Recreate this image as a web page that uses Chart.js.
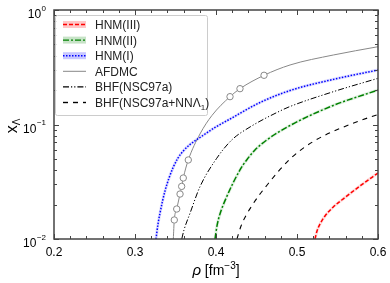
<!DOCTYPE html>
<html>
<head>
<meta charset="utf-8">
<script src="https://cdn.jsdelivr.net/npm/chart.js@4.4.1/dist/chart.umd.min.js"></script>
<style>
  html, body { margin: 0; padding: 0; background: #fff; }
  #wrap { width: 390px; height: 283px; }
</style>
</head>
<body>
<div id="wrap"><canvas id="chart" width="390" height="283"></canvas></div>
<script>
// values: rho [fm^-3] vs x_Lambda
const rhoHNM3 = [0.5222, 0.5247, 0.5284, 0.5346, 0.5448, 0.5593, 0.5778, 0.6];
const xHNM3   = [0.01, 0.01175, 0.01352, 0.01588, 0.01904, 0.02304, 0.02904, 0.0377];

const rhoHNM2 = [0.3988, 0.4012, 0.4049, 0.4132, 0.4296, 0.4379, 0.4481, 0.4626, 0.4914, 0.5448, 0.6];
const xHNM2   = [0.01, 0.01299, 0.01652, 0.0234, 0.0401, 0.049, 0.0599, 0.0732, 0.098, 0.1466, 0.2];

const rhoHNM1 = [0.3259, 0.3284, 0.3309, 0.334, 0.337, 0.342, 0.3473, 0.3531, 0.3596, 0.3679, 0.3802, 0.3988, 0.4173, 0.4543, 0.4914, 0.5469, 0.6];
const xHNM1   = [0.01, 0.01352, 0.01687, 0.02148, 0.02624, 0.0341, 0.0425, 0.051, 0.0587, 0.0669, 0.077, 0.0942, 0.1117, 0.1556, 0.198, 0.2496, 0.2992];

const rhoAFDMC = [0.3473, 0.3485, 0.3515, 0.3556, 0.3576, 0.3596, 0.3658, 0.3802, 0.395, 0.4173, 0.4296, 0.4593, 0.4914, 0.5448, 0.6];
const xAFDMC   = [0.01, 0.01466, 0.01828, 0.0247, 0.0288, 0.0341, 0.049, 0.0826, 0.1199, 0.175, 0.2055, 0.269, 0.331, 0.4045, 0.478];
const rhoAFDMCpts = [0.3485, 0.3515, 0.3556, 0.3576, 0.3596, 0.3658, 0.4173, 0.4296, 0.4593];
const xAFDMCpts   = [0.01466, 0.01828, 0.0247, 0.0288, 0.0341, 0.049, 0.175, 0.2055, 0.269];

const rhoBHF = [0.3577, 0.3605, 0.3679, 0.3802, 0.4009, 0.4194, 0.442, 0.479, 0.4914, 0.5448, 0.6];
const xBHF   = [0.01, 0.012, 0.01676, 0.0286, 0.0507, 0.0732, 0.0951, 0.1312, 0.1436, 0.1934, 0.2532];

const rhoBHF3 = [0.4259, 0.4309, 0.4441, 0.4646, 0.4914, 0.5201, 0.5531, 0.5922, 0.6];
const xBHF3   = [0.01, 0.01299, 0.01942, 0.03053, 0.04996, 0.07103, 0.0923, 0.1174, 0.1223];

const xTicks = [0.2, 0.3, 0.4, 0.5, 0.6];
const xTickLabels = ['0.2', '0.3', '0.4', '0.5', '0.6'];
const yTicks = [1, 0.1, 0.01];
const yTickExps = ['0', '\u22121', '\u22122'];

function pts(xs, ys) {
  return xs.map((v, i) => ({ x: v, y: ys[i] }));
}

function line(label, xs, ys, color, dash, width) {
  return {
    label: label,
    data: pts(xs, ys),
    showLine: true,
    borderColor: color,
    borderWidth: width,
    borderDash: dash,
    pointRadius: 0,
    cubicInterpolationMode: 'monotone',
    fill: false
  };
}

// legend entries (drawn by plugin)
const legendItems = [
  { text: 'HNM(III)', color: '#ff0000', dash: [4, 2], band: 'rgba(255,0,0,0.22)' },
  { text: 'HNM(II)', color: '#008000', dash: [6, 2, 2, 2], band: 'rgba(0,128,0,0.22)' },
  { text: 'HNM(I)', color: '#0000ff', dash: [1.5, 1.5], band: 'rgba(0,0,255,0.22)' },
  { text: 'AFDMC', color: '#888888', dash: [], band: null },
  { text: 'BHF(NSC97a)', color: '#000000', dash: [6, 2, 1.2, 2, 1.2, 2], band: null },
  { text: 'BHF(NSC97a+NN\u039b', sub: '1', tail: ')', color: '#000000', dash: [5, 5], band: null }
];

const axisPlugin = {
  id: 'axisPlugin',
  afterDraw(chart) {
    const ctx = chart.ctx;
    const a = chart.chartArea;
    const xs = chart.scales.x;
    const ys = chart.scales.y;
    ctx.save();

    // frame
    ctx.strokeStyle = '#444';
    ctx.lineWidth = 1.5;
    ctx.strokeRect(a.left, a.top, a.right - a.left, a.bottom - a.top);

    // x ticks, inward, top and bottom
    ctx.lineWidth = 1;
    for (let i = 0; i <= 20; i++) {
      const v = 0.2 + i * 0.02;
      const px = Math.round(xs.getPixelForValue(v)) + 0.5;
      const len = (i % 5 === 0) ? 5 : 3;
      ctx.beginPath();
      ctx.moveTo(px, a.bottom); ctx.lineTo(px, a.bottom - len);
      ctx.moveTo(px, a.top); ctx.lineTo(px, a.top + len);
      ctx.stroke();
    }
    // y ticks (log), left and right
    for (let d = -2; d <= 0; d++) {
      for (let m = 1; m <= 9; m++) {
        const v = m * Math.pow(10, d);
        if (v > 1) break;
        const py = Math.round(ys.getPixelForValue(v)) + 0.5;
        const len = (m === 1) ? 5 : 3;
        ctx.beginPath();
        ctx.moveTo(a.left, py); ctx.lineTo(a.left + len, py);
        ctx.moveTo(a.right, py); ctx.lineTo(a.right - len, py);
        ctx.stroke();
      }
    }

    // x tick labels
    ctx.fillStyle = '#000';
    ctx.font = '12px "Liberation Sans", Arial, sans-serif';
    ctx.textAlign = 'center';
    ctx.textBaseline = 'alphabetic';
    xTicks.forEach((v, i) => {
      ctx.fillText(xTickLabels[i], xs.getPixelForValue(v), 256);
    });

    // y tick labels 10^n
    yTicks.forEach((v, i) => {
      const py = ys.getPixelForValue(v);
      ctx.font = '8px "Liberation Sans", Arial, sans-serif';
      const ew = ctx.measureText(yTickExps[i]).width;
      const right = 46;
      ctx.textAlign = 'left';
      ctx.fillText(yTickExps[i], right - ew, py + 0.5);
      ctx.font = '12px "Liberation Sans", Arial, sans-serif';
      ctx.textAlign = 'right';
      ctx.fillText('10', right - ew - 0.5, py + 8);
    });

    // x title: rho [fm^-3]
    ctx.textAlign = 'left';
    const tParts = [
      { t: '\u03c1', f: 'italic 15px "Liberation Sans", Arial, sans-serif', dy: 0 },
      { t: ' [fm', f: '14px "Liberation Sans", Arial, sans-serif', dy: 0 },
      { t: '\u22123', f: '10px "Liberation Sans", Arial, sans-serif', dy: -6 },
      { t: ']', f: '14px "Liberation Sans", Arial, sans-serif', dy: 0 }
    ];
    let tw = 0;
    tParts.forEach(p => { ctx.font = p.f; p.w = ctx.measureText(p.t).width; tw += p.w; });
    let tx = (a.left + a.right) / 2 - tw / 2;
    tParts.forEach(p => {
      ctx.font = p.f;
      ctx.fillText(p.t, tx, 275 + p.dy);
      tx += p.w;
    });

    // y title: x_Lambda, rotated
    ctx.save();
    ctx.translate(17, 126);
    ctx.rotate(-Math.PI / 2);
    ctx.font = '16px "Liberation Sans", Arial, sans-serif';
    const xw = ctx.measureText('x').width;
    ctx.font = '10px "Liberation Sans", Arial, sans-serif';
    const lw = ctx.measureText('\u039b').width;
    let sx = -(xw + lw) / 2;
    ctx.font = '16px "Liberation Sans", Arial, sans-serif';
    ctx.fillText('x', sx, 0);
    ctx.font = '10px "Liberation Sans", Arial, sans-serif';
    ctx.fillText('\u039b', sx + xw, 3);
    ctx.restore();

    // legend box
    const lx = 55, ly = 15, lwid = 152, lh = 100;
    ctx.fillStyle = 'rgba(255,255,255,0.85)';
    ctx.strokeStyle = '#cccccc';
    ctx.lineWidth = 1;
    ctx.beginPath();
    ctx.roundRect(lx + 0.5, ly + 0.5, lwid, lh, 2);
    ctx.fill();
    ctx.stroke();

    legendItems.forEach((it, i) => {
      const cy = 24.5 + i * 15.6;
      if (it.band) {
        ctx.fillStyle = it.band;
        ctx.fillRect(63, cy - 3.5, 23, 7);
      }
      ctx.strokeStyle = it.color;
      ctx.lineWidth = it.text === 'AFDMC' ? 1 : 1.4;
      ctx.setLineDash(it.dash);
      ctx.beginPath();
      ctx.moveTo(63, cy);
      ctx.lineTo(86, cy);
      ctx.stroke();
      ctx.setLineDash([]);

      ctx.fillStyle = '#222';
      ctx.textAlign = 'left';
      ctx.font = '12px "Liberation Sans", Arial, sans-serif';
      let px = 95;
      ctx.fillText(it.text, px, cy + 4.5);
      if (it.sub) {
        px += ctx.measureText(it.text).width;
        ctx.font = '8px "Liberation Sans", Arial, sans-serif';
        ctx.fillText(it.sub, px, cy + 7);
        px += ctx.measureText(it.sub).width;
        ctx.font = '12px "Liberation Sans", Arial, sans-serif';
        ctx.fillText(it.tail, px, cy + 4.5);
      }
    });

    ctx.restore();
  }
};

const ctx = document.getElementById('chart').getContext('2d');
const chart = new Chart(ctx, {
  type: 'scatter',
  data: {
    datasets: [
      {
        label: 'AFDMC points',
        data: pts(rhoAFDMCpts, xAFDMCpts),
        showLine: false,
        pointRadius: 3.2,
        pointBorderWidth: 1,
        pointBorderColor: '#888888',
        pointBackgroundColor: '#ffffff'
      },
      line('HNM(III)', rhoHNM3, xHNM3, '#ff0000', [4, 2], 1.5),
      line('HNM(II)', rhoHNM2, xHNM2, '#008000', [6, 2, 2, 2], 1.5),
      line('HNM(I)', rhoHNM1, xHNM1, '#0000ff', [1.5, 1.5], 1.5),
      line('AFDMC', rhoAFDMC, xAFDMC, '#888888', [], 1),
      line('BHF(NSC97a)', rhoBHF, xBHF, '#000000', [6, 2, 1.2, 2, 1.2, 2], 1),
      line('BHF(NSC97a+NNL1)', rhoBHF3, xBHF3, '#000000', [5, 5], 1.1),
      line('HNM(III) band', rhoHNM3, xHNM3, 'rgba(255,0,0,0.12)', [], 3),
      line('HNM(II) band', rhoHNM2, xHNM2, 'rgba(0,128,0,0.12)', [], 3),
      line('HNM(I) band', rhoHNM1, xHNM1, 'rgba(0,0,255,0.12)', [], 3)
    ]
  },
  options: {
    responsive: false,
    animation: false,
    layout: { padding: { left: 54, right: 12, top: 10, bottom: 44 } },
    plugins: {
      legend: { display: false },
      tooltip: { enabled: false }
    },
    scales: {
      x: { type: 'linear', min: 0.2, max: 0.6, display: false },
      y: { type: 'logarithmic', min: 0.01, max: 1, display: false }
    }
  },
  plugins: [axisPlugin]
});
</script>
</body>
</html>
